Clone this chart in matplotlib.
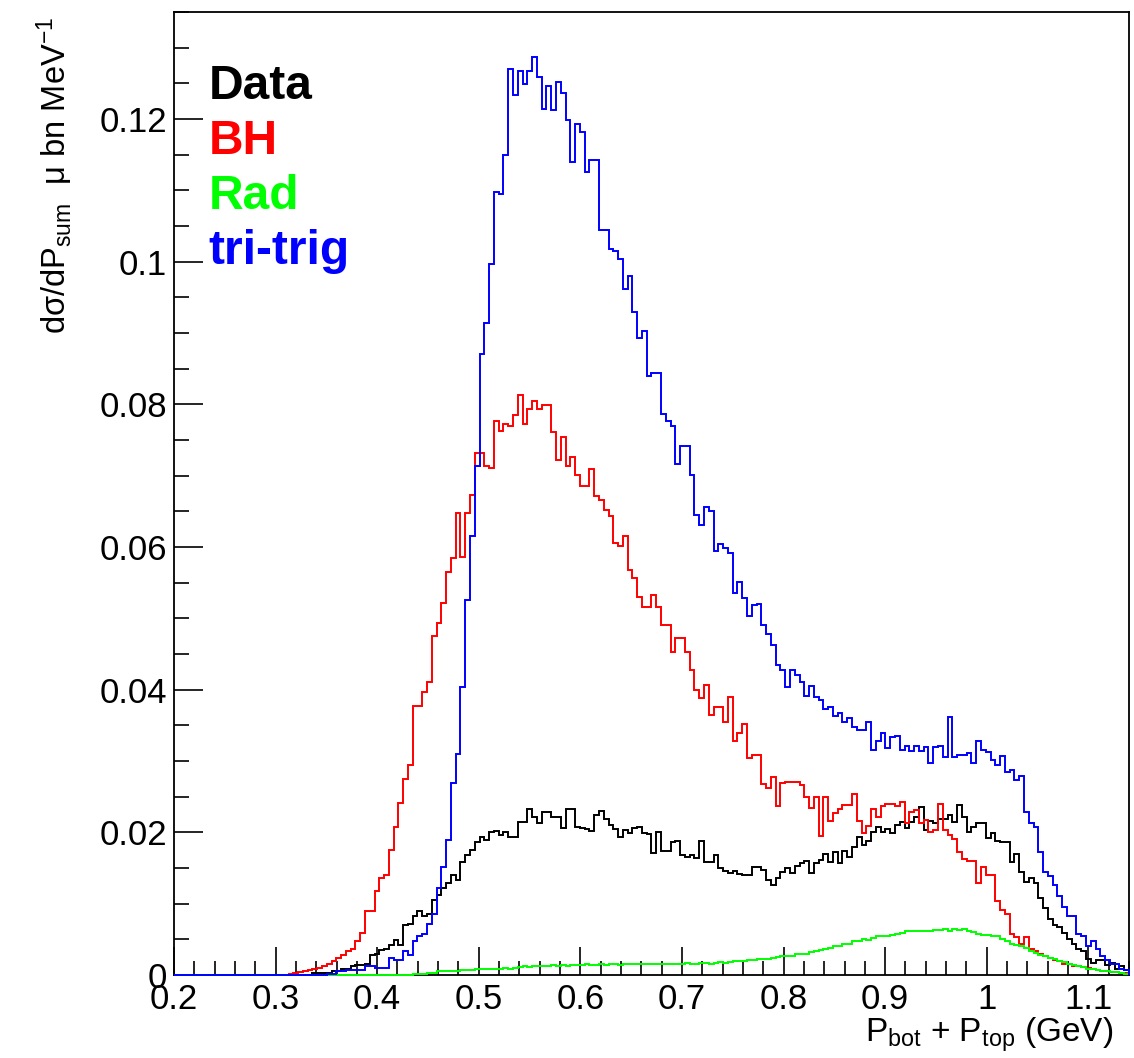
import numpy as np
import matplotlib
matplotlib.use('Agg')
import matplotlib.pyplot as plt
from matplotlib.ticker import MultipleLocator, FuncFormatter

plt.rcParams['font.family'] = ['Liberation Sans', 'DejaVu Sans']
plt.rcParams['mathtext.fontset'] = 'custom'
plt.rcParams['mathtext.rm'] = 'Liberation Sans'

# 200 bins of P_bot + P_top (GeV)
x_lo, x_hi, n_bins = 0.2, 1.14, 200

data = [0.0] * 29 + [
    0.0003, 0.0003, 0.0003, 0.0003, 0.0006, 0.0006, 0.0009, 0.0009, 0.0012, 0.0014, 0.0014,
    0.0016, 0.0028, 0.0030, 0.0035, 0.0037, 0.0042, 0.0049, 0.0042, 0.0070, 0.0072,
    0.0082, 0.0089, 0.0082, 0.0086, 0.0105, 0.0112, 0.0122, 0.0129, 0.0140, 0.0133,
    0.0159, 0.0168, 0.0175, 0.0187, 0.0194, 0.0189, 0.0200, 0.0202, 0.0196, 0.0200,
    0.0194, 0.0194, 0.0214, 0.0215, 0.0232, 0.0222, 0.0213, 0.0228, 0.0229, 0.0222,
    0.0222, 0.0206, 0.0232, 0.0232, 0.0208, 0.0206, 0.0205, 0.0202, 0.0224, 0.0230,
    0.0218, 0.0210, 0.0204, 0.0194, 0.0203, 0.0199, 0.0206, 0.0208, 0.0199, 0.0198,
    0.0171, 0.0200, 0.0174, 0.0174, 0.0186, 0.0188, 0.0168, 0.0166, 0.0168, 0.0164,
    0.0188, 0.0159, 0.0158, 0.0168, 0.0150, 0.0146, 0.0143, 0.0146, 0.0142, 0.0140,
    0.0140, 0.0152, 0.0151, 0.0147, 0.0133, 0.0126, 0.0136, 0.0145, 0.0150, 0.0143,
    0.0153, 0.0157, 0.0160, 0.0143, 0.0157, 0.0161, 0.0170, 0.0159, 0.0173, 0.0157,
    0.0174, 0.0166, 0.0180, 0.0194, 0.0182, 0.0188, 0.0201, 0.0208, 0.0200, 0.0204,
    0.0199, 0.0210, 0.0214, 0.0206, 0.0214, 0.0221, 0.0235, 0.0203, 0.0216, 0.0213,
    0.0218, 0.0218, 0.0224, 0.0215, 0.0238, 0.0222, 0.0201, 0.0208, 0.0213, 0.0213,
    0.0192, 0.0199, 0.0188, 0.0186, 0.0186, 0.0159, 0.0170, 0.0145, 0.0131, 0.0136,
    0.0129, 0.0108, 0.0094, 0.0078, 0.0070, 0.0067, 0.0059, 0.0051, 0.0043, 0.0037,
    0.0033, 0.0023, 0.0017, 0.0021, 0.0021, 0.0014, 0.0017, 0.0008, 0.0012, 0.0007,
]

bh = [0.0] * 24 + [
    0.0002, 0.0003, 0.0004, 0.0005, 0.0007, 0.0008, 0.0010, 0.0013, 0.0016, 0.0019,
    0.0024, 0.0028, 0.0033, 0.0037, 0.0047, 0.0059, 0.0089, 0.0089, 0.0117, 0.0136,
    0.0140, 0.0175, 0.0208, 0.0241, 0.0275, 0.0294,
    0.0377, 0.0377, 0.0396, 0.0411, 0.0475, 0.0494, 0.0522, 0.0565, 0.0584, 0.0647,
    0.0586, 0.0647, 0.0673, 0.0732, 0.0732, 0.0714, 0.0710, 0.0777, 0.0762, 0.0773,
    0.0770, 0.0785, 0.0813, 0.0772, 0.0794, 0.0805, 0.0793, 0.0799, 0.0799, 0.0761,
    0.0722, 0.0754, 0.0714, 0.0726, 0.0701, 0.0685, 0.0685, 0.0709, 0.0671, 0.0666,
    0.0652, 0.0644, 0.0605, 0.0602, 0.0615, 0.0567, 0.0556, 0.0530, 0.0516, 0.0516,
    0.0533, 0.0516, 0.0491, 0.0491, 0.0453, 0.0472, 0.0472, 0.0453, 0.0427, 0.0400,
    0.0388, 0.0407, 0.0365, 0.0376, 0.0376, 0.0354, 0.0389, 0.0328, 0.0339, 0.0352,
    0.0304, 0.0308, 0.0308, 0.0268, 0.0262, 0.0278, 0.0237, 0.0269, 0.0271, 0.0271,
    0.0271, 0.0266, 0.0250, 0.0234, 0.0250, 0.0195, 0.0250, 0.0216, 0.0227, 0.0232,
    0.0238, 0.0238, 0.0254, 0.0216, 0.0199, 0.0209, 0.0232, 0.0222, 0.0237, 0.0240,
    0.0240, 0.0237, 0.0243, 0.0213, 0.0228, 0.0231, 0.0213, 0.0217, 0.0200, 0.0203,
    0.0240, 0.0203, 0.0196, 0.0190, 0.0173, 0.0162, 0.0160, 0.0160, 0.0129, 0.0152,
    0.0140, 0.0140, 0.0103, 0.0091, 0.0086, 0.0058, 0.0053, 0.0044, 0.0053, 0.0037,
    0.0033, 0.0029, 0.0026, 0.0024, 0.0021, 0.0019, 0.0016, 0.0015, 0.0013, 0.0012,
    0.0011, 0.0010, 0.0008, 0.0007, 0.0006, 0.0005, 0.0004, 0.0004, 0.0003, 0.0003,
]

rad = [0.0] * 50 + [
    0.0002, 0.0002, 0.0002, 0.0003, 0.0003, 0.0005, 0.0005, 0.0005, 0.0006, 0.0006,
    0.0007, 0.0007, 0.0007, 0.0008, 0.0008, 0.0008, 0.0009, 0.0009, 0.0009, 0.0010,
    0.0009, 0.0010, 0.0011, 0.0012, 0.0011, 0.0013, 0.0012, 0.0013, 0.0013, 0.0014,
    0.0013, 0.0014, 0.0013, 0.0014, 0.0014, 0.0014, 0.0015, 0.0014, 0.0014, 0.0015,
    0.0014, 0.0015, 0.0015, 0.0014, 0.0015, 0.0015, 0.0016, 0.0015, 0.0015, 0.0015,
    0.0015, 0.0016, 0.0015, 0.0015, 0.0016, 0.0016, 0.0016, 0.0017, 0.0016, 0.0016,
    0.0017, 0.0017, 0.0016, 0.0017, 0.0018, 0.0017, 0.0018, 0.0019, 0.0019, 0.0020,
    0.0021, 0.0021, 0.0022, 0.0022, 0.0023, 0.0024, 0.0025, 0.0026, 0.0027, 0.0027,
    0.0029, 0.0030, 0.0030, 0.0032, 0.0033, 0.0035, 0.0036, 0.0038, 0.0040, 0.0041,
    0.0043, 0.0044, 0.0047, 0.0048, 0.0050, 0.0049, 0.0052, 0.0054, 0.0055, 0.0055,
    0.0056, 0.0057, 0.0059, 0.0061, 0.0061, 0.0061, 0.0062, 0.0062, 0.0062, 0.0063,
    0.0063, 0.0064, 0.0062, 0.0064, 0.0063, 0.0064, 0.0062, 0.0060, 0.0058, 0.0056,
    0.0056, 0.0055, 0.0055, 0.0051, 0.0048, 0.0044, 0.0042, 0.0040, 0.0038, 0.0034,
    0.0031, 0.0028, 0.0026, 0.0024, 0.0022, 0.0020, 0.0018, 0.0016, 0.0014, 0.0012,
    0.0011, 0.0009, 0.0008, 0.0007, 0.0006, 0.0005, 0.0004, 0.0004, 0.0003, 0.0002,
]

tritrig = [0.0] * 32 + [
    0.0001, 0.0002, 0.0005, 0.0005, 0.0007, 0.0007, 0.0007, 0.0007,
    0.0012, 0.0012, 0.0010, 0.0010, 0.0010, 0.0024, 0.0021, 0.0021, 0.0033, 0.0028,
    0.0047, 0.0054, 0.0058, 0.0072, 0.0086, 0.0122, 0.0152, 0.0189, 0.0269, 0.0310,
    0.0403, 0.0525, 0.0616, 0.0714, 0.0870, 0.0914, 0.0997, 0.1098, 0.1095, 0.1150,
    0.1270, 0.1233, 0.1267, 0.1249, 0.1267, 0.1287, 0.1259, 0.1214, 0.1246, 0.1213,
    0.1252, 0.1237, 0.1199, 0.1139, 0.1193, 0.1182, 0.1126, 0.1142, 0.1142, 0.1045,
    0.1045, 0.1017, 0.1015, 0.1003, 0.0961, 0.0980, 0.0929, 0.0893, 0.0903, 0.0840,
    0.0844, 0.0844, 0.0787, 0.0777, 0.0769, 0.0716, 0.0741, 0.0741, 0.0701, 0.0645,
    0.0631, 0.0656, 0.0650, 0.0595, 0.0604, 0.0598, 0.0592, 0.0535, 0.0551, 0.0528,
    0.0503, 0.0519, 0.0520, 0.0491, 0.0478, 0.0463, 0.0435, 0.0427, 0.0404, 0.0427,
    0.0421, 0.0411, 0.0391, 0.0405, 0.0390, 0.0386, 0.0373, 0.0376, 0.0363, 0.0367,
    0.0354, 0.0360, 0.0348, 0.0343, 0.0343, 0.0354, 0.0316, 0.0328, 0.0339, 0.0318,
    0.0333, 0.0335, 0.0315, 0.0321, 0.0314, 0.0321, 0.0314, 0.0319, 0.0297, 0.0319,
    0.0321, 0.0306, 0.0362, 0.0306, 0.0308, 0.0308, 0.0311, 0.0297, 0.0328, 0.0315,
    0.0313, 0.0301, 0.0294, 0.0307, 0.0285, 0.0288, 0.0273, 0.0279, 0.0228, 0.0213,
    0.0207, 0.0173, 0.0145, 0.0139, 0.0126, 0.0110, 0.0095, 0.0082, 0.0082, 0.0058,
    0.0055, 0.0040, 0.0047, 0.0037, 0.0026, 0.0021, 0.0016, 0.0016, 0.0009, 0.0007,
]

labels = ['Data', 'BH', 'Rad', 'tri-trig']
colors = ['#000000', '#ff0000', '#00ff00', '#0000ff']
series = [data, bh, rad, tritrig]

edges = np.linspace(x_lo, x_hi, n_bins + 1)

fig = plt.figure(figsize=(11.34, 10.58), dpi=100)
ax = fig.add_axes([0.1534, 0.0785, 0.8422, 0.9102])

for vals, c in zip(series, colors):
    ax.stairs(vals, edges, baseline=0, color=c, lw=1.4, zorder=3, clip_on=False)

ax.set_xlim(x_lo, x_hi)
ax.set_ylim(0, 0.135)

for s in ax.spines.values():
    s.set_linewidth(1.3)

ax.xaxis.set_major_locator(MultipleLocator(0.1))
ax.xaxis.set_minor_locator(MultipleLocator(0.02))
ax.yaxis.set_major_locator(MultipleLocator(0.02))
ax.yaxis.set_minor_locator(MultipleLocator(0.005))
fmt = FuncFormatter(lambda v, p: f'{round(v, 4):g}')
ax.xaxis.set_major_formatter(fmt)
ax.yaxis.set_major_formatter(fmt)

ax.tick_params(axis='both', which='both', direction='in', width=1.2,
               top=False, right=False)
ax.tick_params(axis='x', which='major', length=20, pad=6, labelsize=25)
ax.tick_params(axis='x', which='minor', length=10)
ax.tick_params(axis='y', which='major', length=21, pad=5, labelsize=25)
ax.tick_params(axis='y', which='minor', length=11)

fig.text(0.982, 0.0155, r'$\mathregular{P_{bot}}$ + $\mathregular{P_{top}}$ (GeV)',
         ha='right', va='baseline', fontsize=24)
fig.text(0.048, 0.984, r'd$\mathregular{\sigma}$/dP$\mathregular{_{sum}}$  $\mathregular{\mu}$ bn MeV$\mathregular{^{-1}}$',
         ha='center', va='top', rotation=90, fontsize=23.5)

# legend as coloured text entries
for k, (lab, c) in enumerate(zip(labels, colors)):
    fig.text(0.184, 1 - (99 + 55 * k) / 1058, lab, color=c, fontsize=34.5,
             fontweight='bold', ha='left', va='baseline')

fig.savefig('out.png', dpi=100)
